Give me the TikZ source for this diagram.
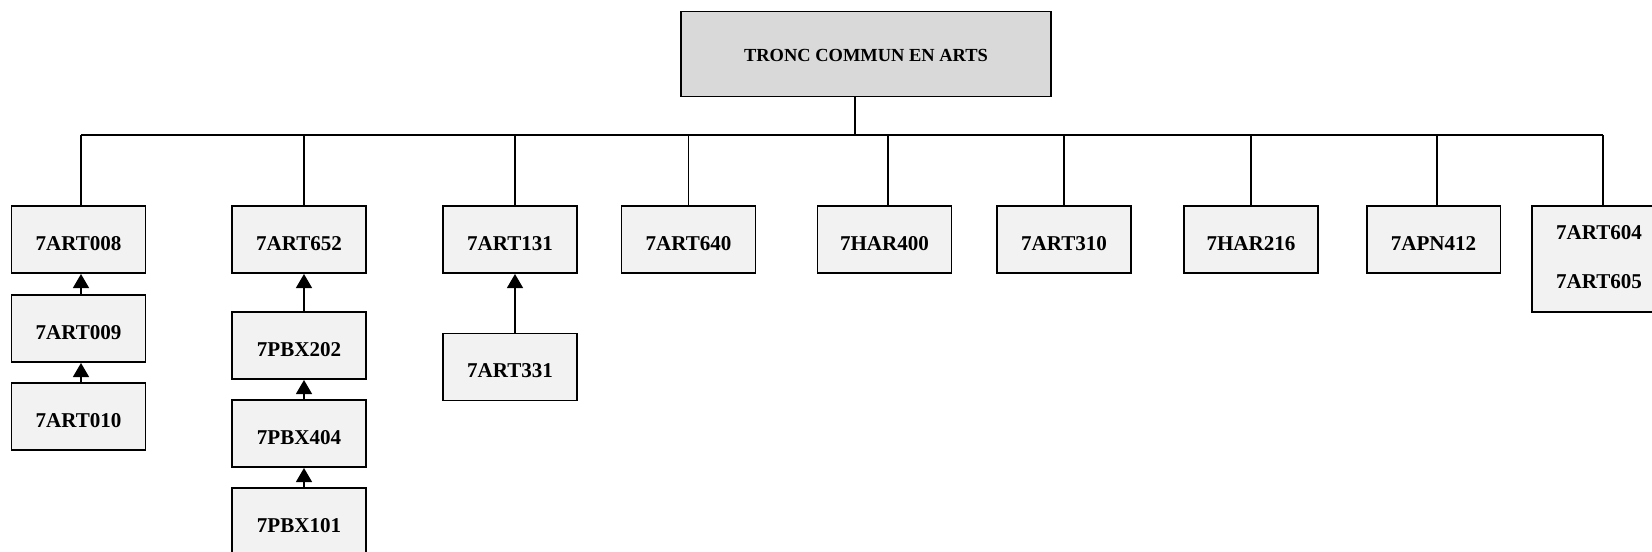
\documentclass[tikz,border=0pt]{standalone}
\usepackage{fontspec}
\setmainfont{Liberation Serif}
\usetikzlibrary{arrows.meta}

\tikzset{
    course/.style={draw, line width=1.1pt, fill=black!5, minimum width=2.68cm, minimum height=1.34cm,
        inner sep=0pt, text height=14.4pt, text depth=2pt, font=\fontsize{12}{14}\selectfont\bfseries},
    trunk/.style={draw, line width=1.1pt, fill=black!15, minimum width=7.4cm, minimum height=1.7cm,
        inner sep=0pt, text height=10pt, text depth=1pt, font=\fontsize{10.5}{12}\selectfont\bfseries},
    prereq/.style={-{Triangle[width=9pt,length=8pt]}, line width=1.1pt},
}

\begin{document}
\begin{tikzpicture}[x=0.02cm, y=-0.02cm, line width=1.1pt]
                \useasboundingbox (0,0) rectangle (1652,551);
                \clip (0,0) rectangle (1652,551);

                \node[trunk] (tronc) at (866,54) {TRONC COMMUN EN ARTS};
                \coordinate (bus) at (0,135);

                \node[course] (art008) at (78.5,239.5) {7ART008};
                \node[course] (art009) at (78.5,328.5) {7ART009};
                \node[course] (art010) at (78.5,416.5) {7ART010};

                \node[course] (art652) at (299,239.5) {7ART652};
                \node[course] (pbx202) at (299,345.5) {7PBX202};
                \node[course] (pbx404) at (299,433.5) {7PBX404};
                \node[course] (pbx101) at (299,521.5) {7PBX101};

                \node[course] (art131) at (510,239.5) {7ART131};
                \node[course] (art331) at (510,367) {7ART331};

                \node[course] (art640) at (688.5,239.5) {7ART640};
                \node[course] (har400) at (884.5,239.5) {7HAR400};
                \node[course] (art310) at (1064,239.5) {7ART310};
                \node[course] (har216) at (1251,239.5) {7HAR216};
                \node[course] (apn412) at (1433.5,239.5) {7APN412};
                \node[course, minimum height=2.12cm, align=center, text height=33.8pt, text depth=0pt,
                    font=\fontsize{12}{28}\selectfont\bfseries] (art604) at (1599,259) {7ART604\\7ART605};

                % tree
                \draw ([xshift=-0.22cm]tronc.south) -- ([xshift=-0.22cm]tronc.south |- bus);
                \draw ([xshift=0.05cm]art008.north |- bus) -- ([xshift=0.08cm]art604.north |- bus);
                \draw ([xshift=0.05cm]art008.north) -- ([xshift=0.05cm]art008.north |- bus);
                \draw ([xshift=0.1cm]art652.north) -- ([xshift=0.1cm]art652.north |- bus);
                \draw ([xshift=0.1cm]art131.north) -- ([xshift=0.1cm]art131.north |- bus);
                \draw (art640.north) -- (art640.north |- bus);
                \draw ([xshift=0.07cm]har400.north) -- ([xshift=0.07cm]har400.north |- bus);
                \draw (art310.north) -- (art310.north |- bus);
                \draw (har216.north) -- (har216.north |- bus);
                \draw ([xshift=0.07cm]apn412.north) -- ([xshift=0.07cm]apn412.north |- bus);
                \draw ([xshift=0.08cm]art604.north) -- ([xshift=0.08cm]art604.north |- bus);

                % prerequisites
                \draw[prereq] ([xshift=0.05cm]art009.north) -- ([xshift=0.05cm]art008.south);
                \draw[prereq] ([xshift=0.05cm]art010.north) -- ([xshift=0.05cm]art009.south);
                \draw[prereq] ([xshift=0.1cm]pbx202.north) -- ([xshift=0.1cm]art652.south);
                \draw[prereq] ([xshift=0.1cm]pbx404.north) -- ([xshift=0.1cm]pbx202.south);
                \draw[prereq] ([xshift=0.1cm]pbx101.north) -- ([xshift=0.1cm]pbx404.south);
                \draw[prereq] ([xshift=0.1cm]art331.north) -- ([xshift=0.1cm]art131.south);
            \end{tikzpicture}
\end{document}
